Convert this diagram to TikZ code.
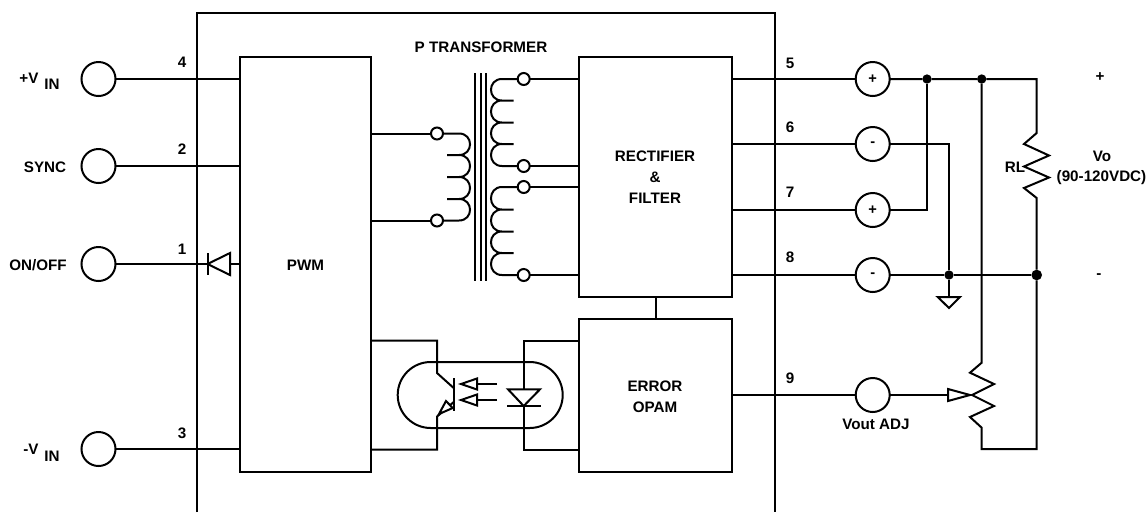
\documentclass[tikz,border=0pt]{standalone}
\usepackage{fontspec}
\setmainfont{Liberation Sans}
\usetikzlibrary{calc}
\tikzset{
  wire/.style={line width=1.5pt,line join=miter},
  term/.style={circle,draw,line width=1.5pt,fill=white,inner sep=0pt,outer sep=0pt,minimum size=25.5pt,font=\bfseries\fontsize{11}{12}\selectfont},
  tap/.style={circle,draw,line width=1.5pt,fill=white,inner sep=0pt,outer sep=0pt,minimum size=9pt},
  dot/.style={circle,fill=black,inner sep=0pt,outer sep=0pt,minimum size=7pt},
  bigdot/.style={circle,fill=black,inner sep=0pt,outer sep=0pt,minimum size=8pt},
  block/.style={rectangle,draw,line width=1.5pt,fill=white,inner sep=0pt,outer sep=0pt},
  lab/.style={font=\bfseries\fontsize{11.4}{13}\selectfont,inner sep=0pt,align=center},
  openhead/.style={line width=1.5pt,fill=white,line join=miter}
}
\begin{document}
\begin{tikzpicture}[x=.75pt,y=-.75pt]
\useasboundingbox (0,0) rectangle (1147,512);
\fill[white] (0,0) rectangle (1147,512);
% outer casing
\coordinate (caseBL) at (197,512);
\coordinate (caseTL) at (197,13);
\coordinate (caseTR) at (775,13);
\coordinate (caseBR) at (775,512);
\draw[wire] (caseBL) -- (caseTL) -- (caseTR) -- (caseBR);
% blocks
\node[block,minimum width=98.25pt,minimum height=311.25pt] (pwm) at (305.5,264.5) {};
\node[block,minimum width=114.75pt,minimum height=180pt] (rect) at (655.5,177) {};
\node[block,minimum width=114.75pt,minimum height=114.75pt] (err) at (655.5,395.5) {};
\draw[wire] (rect.south) -- (err.north);
% left terminals
\node[term] (Tvp) at (98.5,79) {};
\node[term] (Tsy) at (98.5,166) {};
\node[term] (Ton) at (98.5,264) {};
\node[term] (Tvn) at (98.5,449) {};
\draw[wire] (Tvp) -- (pwm.west |- Tvp);
\draw[wire] (Tsy) -- (pwm.west |- Tsy);
\draw[wire] (Ton) -- (pwm.west |- Ton);
\draw[wire] (Tvn) -- (pwm.west |- Tvn);
% input diode
\coordinate (dk) at (207.5,264);
\draw[wire] (207.5,253) -- (207.5,275);
\draw[openhead] (dk) -- (230,253) -- (230,275) -- cycle;
% transformer core
\foreach \cx in {475,480.7,486} \draw[wire] (\cx,73) -- (\cx,281);
% primary
\node[tap] (pa) at (437,133.5) {};
\node[tap] (pb) at (437,220.5) {};
\draw[wire] (pwm.east |- pa) -- (pa);
\draw[wire] (pwm.east |- pb) -- (pb);
\draw[wire] (pa) -- (459,133.5)
  .. controls (473.7,133.5) and (473.7,155) .. (459,155) -- (447,155) -- (459,155)
  .. controls (473.7,155) and (473.7,177) .. (459,177) -- (447,177) -- (459,177)
  .. controls (473.7,177) and (473.7,199) .. (459,199) -- (447,199) -- (459,199)
  .. controls (473.7,199) and (473.7,220.5) .. (459,220.5) -- (pb);
% secondaries
\node[tap] (sa) at (523.7,79) {};
\node[tap] (sb) at (523.7,166) {};
\node[tap] (sc) at (523.7,187) {};
\node[tap] (sd) at (523.7,275) {};
\foreach \n in {sa,sb,sc,sd} \draw[wire] (\n) -- (rect.west |- \n);
\draw[wire] (sa) -- (502,79)
  .. controls (487.3,79) and (487.3,100.5) .. (502,100.5) -- (513.7,100.5) -- (502,100.5)
  .. controls (487.3,100.5) and (487.3,122.5) .. (502,122.5) -- (513.7,122.5) -- (502,122.5)
  .. controls (487.3,122.5) and (487.3,144) .. (502,144) -- (513.7,144) -- (502,144)
  .. controls (487.3,144) and (487.3,166) .. (502,166) -- (sb);
\draw[wire] (sc) -- (502,187)
  .. controls (487.3,187) and (487.3,209.5) .. (502,209.5) -- (513.7,209.5) -- (502,209.5)
  .. controls (487.3,209.5) and (487.3,231.5) .. (502,231.5) -- (513.7,231.5) -- (502,231.5)
  .. controls (487.3,231.5) and (487.3,253) .. (502,253) -- (513.7,253) -- (502,253)
  .. controls (487.3,253) and (487.3,275) .. (502,275) -- (sd);
% optocoupler
\node[rectangle,draw,line width=1.5pt,rounded corners=24.75pt,inner sep=0pt,outer sep=0pt,minimum width=123.75pt,minimum height=49.5pt] (opto) at (480.2,395) {};
\coordinate (colEl) at (437,373);
\coordinate (colB) at (453.7,388);
\coordinate (emB) at (453.7,402);
\coordinate (emEl) at (437,416.6);
\draw[wire] (pwm.east |- 0,340.7) -| (colEl) -- (colB);
\draw[wire] (pwm.east |- 0,449.5) -| (emEl) -- (emB);
\draw[wire] (453.7,378) -- (453.7,411);
\draw[openhead] (439,414) -- (446,401) -- (452.7,408) -- cycle;
\draw[wire] (err.west |- 0,340.7) -| (523.7,449.5) -- (err.west |- 0,449.5);
\draw[openhead] (508,389.3) -- (540,389.3) -- (523.7,406) -- cycle;
\draw[wire] (507,406) -- (541,406);
\foreach \ya in {384,400}{
  \draw[wire] (497,\ya) -- (477,\ya);
  \draw[openhead] (461,\ya) -- (477,\ya-5.5) -- (477,\ya+5.5) -- cycle;
}
% right terminals
\node[term] (Ta) at (872.7,79) {+};
\node[term] (Tb) at (872.7,144) {-};
\node[term] (Tc) at (872.7,210) {+};
\node[term] (Td) at (872.7,275) {-};
\node[term] (Te) at (872.7,395) {};
\foreach \n in {Ta,Tb,Tc,Td} \draw[wire] (rect.east |- \n) -- (\n);
\draw[wire] (err.east |- Te) -- (Te);
% output wiring
\node[dot] (j1) at (927,79) {};
\node[dot] (j2) at (981.7,79) {};
\coordinate (rlTop) at (1036.7,79);
\node[dot] (j3) at (949,275) {};
\node[bigdot] (j4) at (1036.7,275) {};
\coordinate (gndTop) at (949,297);
\draw[wire] (Ta) -- (j1) -- (j2) -- (rlTop) -- (1036.7,133) -- (1024,144) -- (1049,155.5) -- (1024,166.5) -- (1049,177.5) -- (1024,188) -- (1036.7,198) -- (j4);
\draw[wire] (j1) |- (Tc);
\draw[wire] (Tb) -| (j3);
\draw[wire] (Td) -- (j3) -- (j4);
\draw[wire] (j3) -- (gndTop);
\draw[wire] (937.7,297) -- (960,297) -- (949,308) -- cycle;
\draw[wire] (j4) -- (1036.7,449) -- (981.7,449) -- (981.7,427.7) -- (970,417) -- (994,406) -- (972,395) -- (994,384) -- (970,372.7) -- (981.7,362.7) -- (j2);
\coordinate (wiper) at (970,395);
\draw[wire] (Te) -- (wiper);
\draw[openhead] (wiper) -- (948,389) -- (948,401) -- cycle;
% labels
\node[lab] at (481,47) {P TRANSFORMER};
\node[lab] at (305.5,265) {PWM};
\node[lab] at (655,156) {RECTIFIER};
\node[lab] at (655,177) {\&};
\node[lab] at (655,198) {FILTER};
\node[lab] at (655,386) {ERROR};
\node[lab] at (655,407) {OPAM};
\node[lab] at (182,62.5) {4};
\node[lab] at (182,149.5) {2};
\node[lab] at (182,249) {1};
\node[lab] at (182,433) {3};
\node[lab] at (790,63) {5};
\node[lab] at (790,127.5) {6};
\node[lab] at (790,192.5) {7};
\node[lab] at (790,257.5) {8};
\node[lab] at (790,378) {9};
\node[lab] at (29,78) {+V};
\node[lab] at (52,84) {IN};
\node[lab] at (31,449.5) {-V};
\node[lab] at (52,456) {IN};
\node[lab] at (45,167) {SYNC};
\node[lab] at (38,265) {ON/OFF};
\node[lab] at (1100,77) {+};
\node[lab] at (1099,276) {-};
\node[lab] at (1102,156) {Vo};
\node[lab] at (1101.5,178) {(90-120VDC)};
\node[lab] at (1015,167) {RL};
\node[lab] at (876,424) {Vout ADJ};
\end{tikzpicture}
\end{document}
